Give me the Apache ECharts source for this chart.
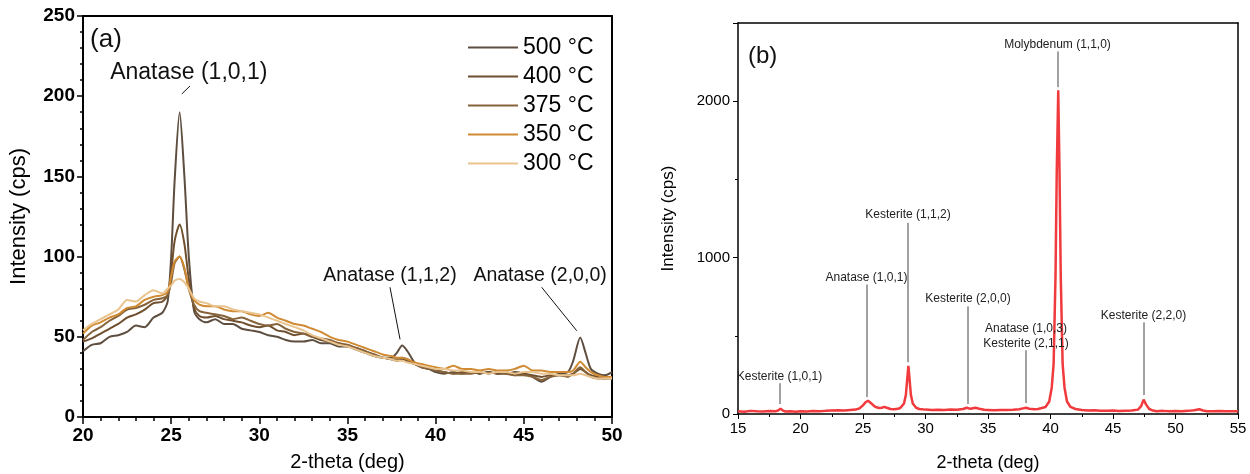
<!DOCTYPE html>
<html>
<head>
<meta charset="utf-8">
<script src="https://cdn.jsdelivr.net/npm/echarts@6/dist/echarts.min.js"></script>
<style>html,body{margin:0;padding:0;background:#fff}#c{width:1250px;height:474px}</style>
</head>
<body>
<div id="c"></div>
<script>
// ---------- Panel (a) data ----------
const aX = [20,20.5,21,21.5,22,22.5,23,23.5,24,24.5,24.8,25.0,25.2,25.48,25.75,26.0,26.3,26.6,
  27,27.5,28,28.5,29,29.5,30,30.5,31,31.5,32,32.5,33,33.5,34,34.5,35,35.5,36,36.5,37,37.5,
  37.8,38.1,38.4,38.8,39.2,39.6,
  40,40.5,41,41.5,42,42.5,43,43.5,44,44.5,45,45.5,46,46.5,47,47.5,
  47.8,48.2,48.5,48.8,49.2,49.6,50];
const aNames = ['500 °C','400 °C','375 °C','350 °C','300 °C'];
const a500 = [41,45,46,50,51,53,57,56,62,65,72,100,148,190,150,100,66,61,
  59,61,58,58,55,54,53,51,50,48,47,47,48,46,46,44,44,42,40,38,37,37,
  40,44.5,41,34,31,30,
  28,27,28,27,28,27,28,27,28,26,27,25,22,25,27,28,
  35,49.5,40,30,27,26,28];
const a400 = [47,49,52,55,58,62,64,67,71,72,76,90,110,120,108,86,68,63,
  62,63,61,60,59,57,56,57,54,53,51,52,50,48,47,46,44,43,41,39,37,36,
  35,36,35,33,32,30,
  29,28,27,28,28,27,28,27,27,28,27,26,25,26,26,26,
  27,30,28,26,25,24,25];
const a375 = [48,53,56,60,63,67,68,70,73,74,76,84,96,100,92,80,70,66,
  65,64,63,61,62,60,58,57,58,55,53,52,50,49,48,46,45,43,41,39,37,36,
  36,37,36,33,31,30,
  29,28,27,27,27,28,27,28,27,26,26,25,23,25,26,25,
  27,31,28,25,24,24,24];
const a350 = [52,57,59,62,64,68,69,73,75,76,78,88,97,100,93,80,73,70,
  69,69,67,66,66,64,63,65,62,60,58,57,55,53,50,48,47,45,43,41,39,38,
  37,37,36,34,33,32,
  31,30,32,30,30,29,30,29,29,30,32,29,29,28,28,28,
  29,34.5,31,28,26,25,25];
const a300 = [54,58,61,64,67,73,72,76,79,77,80,82,85,86,84,80,74,72,
  71,69,69,67,66,65,64,62,60,58,56,54,51,49,47,45,44,42,40,38,37,36,
  35,35,34,33,32,31,
  30,30,29,29,28,28,27,28,28,27,28,28,27,27,26,26,
  26,27,26,25,24,24,24];
const aSeries = [a500, a400, a375, a350, a300];
const aColors = ['#5e4e40','#6f4f2e','#86633a','#d08a32','#eac48f'];

// ---------- Panel (b) data ----------
const bX = [15,15.5,16,16.5,17,17.5,18,18.2,18.4,18.6,18.8,19.2,19.6,20,20.5,21,21.5,22,22.5,23,23.5,24,24.4,
  24.7,25.0,25.2,25.4,25.6,25.8,26.0,26.3,26.5,26.7,26.9,27.2,27.5,27.8,
  28.0,28.28,28.43,28.53,28.63,28.73,28.83,28.98,29.25,29.5,
  30,30.5,31,31.5,32,32.5,33,33.3,33.6,34,34.3,34.7,35,35.5,36,36.5,37,37.5,37.8,38.05,38.3,38.7,39,39.3,
  39.6,39.9,40.1,40.25,40.4,40.5,40.62,40.72,40.82,40.97,41.12,41.32,41.6,
  42,42.5,43,43.5,44,44.5,45,45.5,46,46.5,47,47.25,47.45,47.65,47.9,48.2,48.5,
  49,49.5,50,50.5,51,51.5,51.9,52.2,52.5,53,53.5,54,54.5,55];
const bY = [18,15,20,17,16,19,17,22,33,22,16,17,15,18,16,19,17,20,22,24,22,26,28,
  35,55,75,85,72,58,45,38,40,46,40,32,30,33,
  40,67,123,217,308,217,123,67,40,32,
  28,26,27,25,28,27,32,40,33,40,34,27,26,24,26,25,27,30,36,40,34,30,32,38,
  45,80,170,320,880,1550,2070,1550,880,320,170,80,45,
  32,25,22,24,21,20,22,19,21,22,28,50,92,60,32,22,18,
  20,17,19,18,20,24,30,22,18,17,19,17,18,17];

// ---------- Annotations (label text, anchor in data units, leader line in data units) ----------
const aNotes = [
  {text:'Anatase (1,0,1)', at:[26.0,214.5], line:[[25.6,201.4],[26.07,206.4]], size:23},
  {text:'Anatase (1,1,2)', at:[37.41,87.9], line:[[37.41,80.9],[37.98,48.4]], size:19.5},
  {text:'Anatase (2,0,0)', at:[45.92,87.9], line:[[46.01,80.9],[48.0,53.8]], size:19.5}
];
const bNotes = [
  {text:'Kesterite (1,0,1)', at:[18.32,237.6], line:[[18.36,197],[18.36,64]], size:12},
  {text:'Anatase (1,0,1)', at:[25.28,874.5], line:[[25.32,828],[25.32,108]], size:12},
  {text:'Kesterite (1,1,2)', at:[28.6,1276], line:[[28.6,1223],[28.6,331]], size:12},
  {text:'Kesterite (2,0,0)', at:[33.4,739], line:[[33.4,688],[33.4,64]], size:12},
  {text:'Anatase (1,0,3)\nKesterite (2,1,1)', at:[38.04,500], line:[[38.04,408],[38.04,70]], size:12},
  {text:'Kesterite (2,2,0)', at:[47.44,631], line:[[47.48,586],[47.48,121]], size:12},
  {text:'Molybdenum (1,1,0)', at:[40.56,2363], line:[[40.6,2318],[40.6,2089]], size:12}
];

const FONT = '"Liberation Sans", Arial, sans-serif';
const chart = echarts.init(document.getElementById('c'), null, {renderer:'canvas'});

function frameAxis(pos, grid, min, max, w){
  return {type:'value', gridIndex:grid, position:pos, min:min, max:max,
    axisLine:{show:true, onZero:false, lineStyle:{color:'#000', width:w}},
    axisTick:{show:false}, axisLabel:{show:false}, splitLine:{show:false}};
}

const series = aSeries.map((arr, k) => ({
  name: aNames[k], type:'line', xAxisIndex:0, yAxisIndex:0,
  data: aX.map((x,i)=>[x, arr[i]]), showSymbol:false, symbol:'none',
  smooth:0.25, lineStyle:{color:aColors[k], width:2}, itemStyle:{color:aColors[k]},
  z: 2, animation:false
}));
series.push({
  name:'b', type:'line', xAxisIndex:2, yAxisIndex:2,
  data: bX.map((x,i)=>[x, bY[i]]), showSymbol:false, symbol:'none',
  lineStyle:{color:'#f03a3d', width:2.5}, itemStyle:{color:'#f03a3d'}, animation:false
});

chart.setOption({
  animation:false,
  textStyle:{fontFamily:FONT},
  grid:[
    {left:83, top:16, width:529, height:401, containLabel:false, outerBoundsMode:'none'},
    {left:738, top:23, width:500, height:391, containLabel:false, outerBoundsMode:'none'}
  ],
  legend:{
    data:aNames, orient:'vertical', left:463, top:31, icon:'rect',
    itemWidth:50, itemHeight:2, itemGap:6,
    textStyle:{fontSize:23, lineHeight:23, color:'#000', fontFamily:FONT}
  },
  xAxis:[
    {type:'value', gridIndex:0, min:20, max:50, interval:5, position:'bottom',
     name:'2-theta (deg)', nameLocation:'middle', nameGap:35,
     nameTextStyle:{fontSize:20, color:'#000', fontFamily:FONT},
     axisLine:{onZero:false, lineStyle:{color:'#000', width:2}},
     axisTick:{show:true, inside:false, length:7, lineStyle:{color:'#000', width:1.5}},
     minorTick:{show:true, splitNumber:5, length:4, lineStyle:{color:'#000', width:1.5}},
     axisLabel:{fontSize:19, fontWeight:'bold', color:'#000', margin:9, fontFamily:FONT},
     splitLine:{show:false}},
    frameAxis('top', 0, 20, 50, 2),
    {type:'value', gridIndex:1, min:15, max:55, interval:5, position:'bottom',
     name:'2-theta (deg)', nameLocation:'middle', nameGap:40,
     nameTextStyle:{fontSize:18, color:'#000', fontFamily:FONT},
     axisLine:{onZero:false, lineStyle:{color:'#000', width:1.5}},
     axisTick:{show:true, inside:false, length:5, lineStyle:{color:'#000', width:1}},
     minorTick:{show:true, splitNumber:2, length:3, lineStyle:{color:'#000', width:1}},
     axisLabel:{fontSize:15, color:'#000', margin:7, fontFamily:FONT},
     splitLine:{show:false}},
    frameAxis('top', 1, 15, 55, 1.5)
  ],
  yAxis:[
    {type:'value', gridIndex:0, min:0, max:250, interval:50, position:'left',
     name:'Intensity (cps)', nameLocation:'middle', nameGap:53,
     nameTextStyle:{fontSize:22, color:'#000', fontFamily:FONT},
     axisLine:{onZero:false, lineStyle:{color:'#000', width:2}},
     axisTick:{show:true, inside:false, length:6, lineStyle:{color:'#000', width:1.5}},
     minorTick:{show:true, splitNumber:5, length:3, lineStyle:{color:'#000', width:1.5}},
     axisLabel:{fontSize:19, fontWeight:'bold', color:'#000', margin:8, fontFamily:FONT},
     splitLine:{show:false}},
    frameAxis('right', 0, 0, 250, 2),
    {type:'value', gridIndex:1, min:0, max:2500, interval:1000, position:'left',
     name:'Intensity (cps)', nameLocation:'middle', nameGap:61,
     nameTextStyle:{fontSize:17, color:'#000', fontFamily:FONT},
     axisLine:{onZero:false, lineStyle:{color:'#000', width:1.5}},
     axisTick:{show:true, inside:false, length:5, lineStyle:{color:'#000', width:1}},
     minorTick:{show:true, splitNumber:2, length:3, lineStyle:{color:'#000', width:1}},
     axisLabel:{fontSize:15, color:'#000', margin:8, showMaxLabel:false, fontFamily:FONT,
       formatter: v => String(v)},
     splitLine:{show:false}},
    frameAxis('right', 1, 0, 2500, 1.5)
  ],
  series: series
});

function buildNotes(notes, grid, textColor, lineColor){
  const out = [];
  notes.forEach(n => {
    const p = chart.convertToPixel({gridIndex:grid}, n.at);
    const l0 = chart.convertToPixel({gridIndex:grid}, n.line[0]);
    const l1 = chart.convertToPixel({gridIndex:grid}, n.line[1]);
    out.push({type:'line', silent:true, z:10,
      shape:{x1:l0[0], y1:l0[1], x2:l1[0], y2:l1[1]},
      style:{stroke:lineColor, lineWidth:1}});
    out.push({type:'text', silent:true, z:10, x:p[0], y:p[1],
      style:{text:n.text, fill:textColor, font: n.size + 'px ' + FONT,
        align:'center', verticalAlign:'middle', lineHeight: n.size + 3}});
  });
  return out;
}
const pa = chart.convertToPixel({gridIndex:0}, [20.4, 235]);
const pb = chart.convertToPixel({gridIndex:1}, [15.8, 2287]);
const graphics = []
  .concat(buildNotes(aNotes, 0, '#111', '#111'))
  .concat(buildNotes(bNotes, 1, '#222', '#444'))
  .concat([
    {type:'text', silent:true, x:pa[0], y:pa[1], style:{text:'(a)', fill:'#111', font:'26px ' + FONT, align:'left', verticalAlign:'middle'}},
    {type:'text', silent:true, x:pb[0], y:pb[1], style:{text:'(b)', fill:'#111', font:'24px ' + FONT, align:'left', verticalAlign:'middle'}}
  ]);
chart.setOption({graphic: graphics});
</script>
</body>
</html>
